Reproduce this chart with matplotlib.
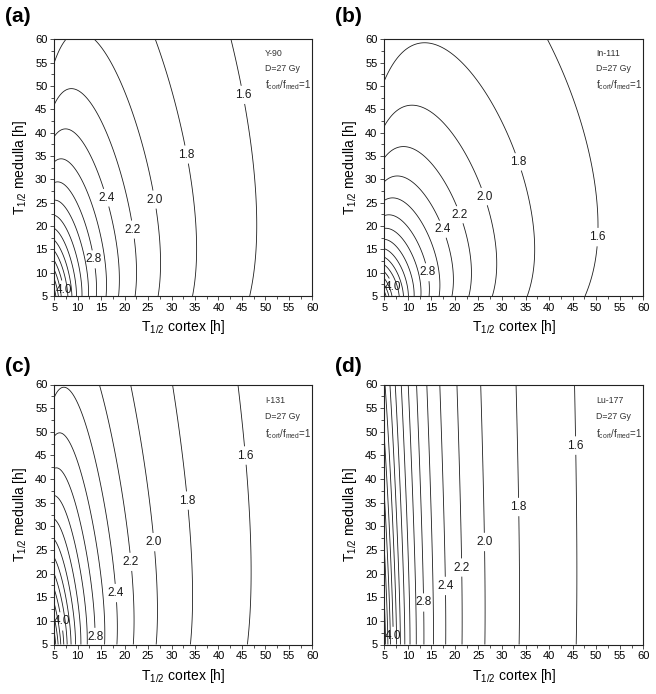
import numpy as np
import matplotlib
matplotlib.use("Agg")
import matplotlib.pyplot as plt

plt.rcParams['font.family'] = ['Liberation Sans', 'DejaVu Sans']
plt.rcParams['mathtext.fontset'] = 'custom'
plt.rcParams['mathtext.rm'] = 'Liberation Sans'
plt.rcParams['mathtext.it'] = 'Liberation Sans:italic'
plt.rcParams['mathtext.bf'] = 'Liberation Sans:bold'
plt.rcParams['mathtext.default'] = 'regular'

# ---------------- data ----------------
panel_letters = ['(a)', '(b)', '(c)', '(d)']
nuclides = ['Y-90', 'In-111', 'I-131', 'Lu-177']
# medulla->cortex cross-dose ratio (initial dose rate), one per nuclide
cross_dose_ratio = [0.175, 0.337, 0.09, 0.016]
dose_gy = 27.0
alpha_beta_gy = 2.6
repair_half_time_h = 2.8
half_life_min = 5.0
half_life_max = 60.0
levels = [1.6, 1.8, 2.0, 2.2, 2.4, 2.6, 2.8, 3.0, 3.2, 3.4, 3.6, 3.8, 4.0, 4.2, 4.4, 4.6]
labelled_levels = [1.6, 1.8, 2.0, 2.2, 2.4, 2.8, 4.0]
tick_values = [5, 10, 15, 20, 25, 30, 35, 40, 45, 50, 55, 60]
info_lines = ['D=27 Gy', r'f$_{cort}$/f$_{med}$=1']

# ---------------- layout ----------------
W, H = 656, 694
axes_px = [(54.3, 39.3, 258, 256.7), (384.3, 39.3, 259, 256.7),
           (54.3, 384.5, 258, 260), (384.3, 384.5, 259, 260)]
letter_px = [(5, 7), (335, 7), (5, 357), (335, 357)]
label_pos = [
    [(45.8, 48.2), (33.7, 35.4), (26.6, 25.7), (22.2, 19.3), (16.2, 26.1), (13.7, 12.9), (7.1, 6.4)],
    [(50.6, 17.6), (34.5, 34.1), (27.1, 26.6), (21.8, 22.7), (17.9, 19.5), (14.7, 10.2), (7.3, 7.1)],
    [(46.0, 45.0), (33.9, 35.5), (26.7, 26.7), (21.5, 22.5), (18.3, 15.9), (14.0, 6.6), (6.6, 9.9)],
    [(46.9, 47.1), (34.7, 34.1), (27.1, 26.7), (22.3, 21.3), (18.8, 17.4), (14.1, 13.9), (7.4, 6.8)],
]


def relative_effectiveness(tc, tm, k):
    ln2 = np.log(2.0)
    mu = ln2 / repair_half_time_h
    comps = [(1.0, ln2 / tc), (k, ln2 / tm)]
    num = 0.0
    for ri, li in comps:
        for rj, lj in comps:
            num = num + ri * rj * (li + lj + 2 * mu) / ((li + lj) * (li + mu) * (lj + mu))
    dose = sum(r / l for r, l in comps)
    g = num / dose ** 2
    return 1.0 + dose_gy / alpha_beta_gy * g


t = np.linspace(half_life_min, half_life_max, 500)
TC, TM = np.meshgrid(t, t)

fig = plt.figure(figsize=(W / 100, H / 100), dpi=100)
line_col = '#1e1e1e'
plain_levels = [v for v in levels if v not in labelled_levels]

for i in range(4):
    x, y, w, h = axes_px[i]
    ax = fig.add_axes([x / W, 1 - (y + h) / H, w / W, h / H])
    Z = relative_effectiveness(TC, TM, cross_dose_ratio[i])
    ax.contour(TC, TM, Z, levels=plain_levels, colors=line_col, linewidths=0.6)
    cs = ax.contour(TC, TM, Z, levels=labelled_levels, colors=line_col, linewidths=0.6)
    texts = ax.clabel(cs, inline=True, inline_spacing=1,
                      fmt='%.1f', fontsize=8.5, manual=label_pos[i])
    for tx in texts:
        tx.set_rotation(0)
        tx.set_color('#1a1a1a')
    ax.set_xlim(half_life_min, half_life_max)
    ax.set_ylim(half_life_min, half_life_max)
    ax.set_xticks(tick_values)
    ax.set_yticks(tick_values)
    ax.set_xticks(np.arange(7.5, 60, 5), minor=True)
    ax.set_yticks(np.arange(7.5, 60, 5), minor=True)
    ax.tick_params(which='both', direction='out', top=False, right=False,
                   labelsize=8, pad=2, width=0.6, color='#333333')
    ax.tick_params(which='major', length=3)
    ax.tick_params(which='minor', length=2)
    for s in ax.spines.values():
        s.set_linewidth(0.8)
        s.set_color('#222222')
    ax.set_xlabel(r'T$_{1/2}$ cortex [h]', fontsize=10, labelpad=4)
    ax.set_ylabel(r'T$_{1/2}$ medulla [h]', fontsize=10, labelpad=4)
    top = 0.943 if i < 2 else 0.938
    step = 0.058 if i < 2 else 0.062
    ax.text(0.817, top, nuclides[i], transform=ax.transAxes, fontsize=6.3,
            ha='left', va='center', color='#333333')
    ax.text(0.817, top - step, info_lines[0], transform=ax.transAxes, fontsize=6.3,
            ha='left', va='center', color='#333333')
    ax.text(0.817, top - 2 * step - 0.004, info_lines[1], transform=ax.transAxes,
            fontsize=7, ha='left', va='center', color='#333333')
    lx, ly = letter_px[i]
    fig.text(lx / W, 1 - ly / H, panel_letters[i], fontsize=15, fontweight='bold',
             ha='left', va='top')

fig.savefig('out.png', dpi=100)
